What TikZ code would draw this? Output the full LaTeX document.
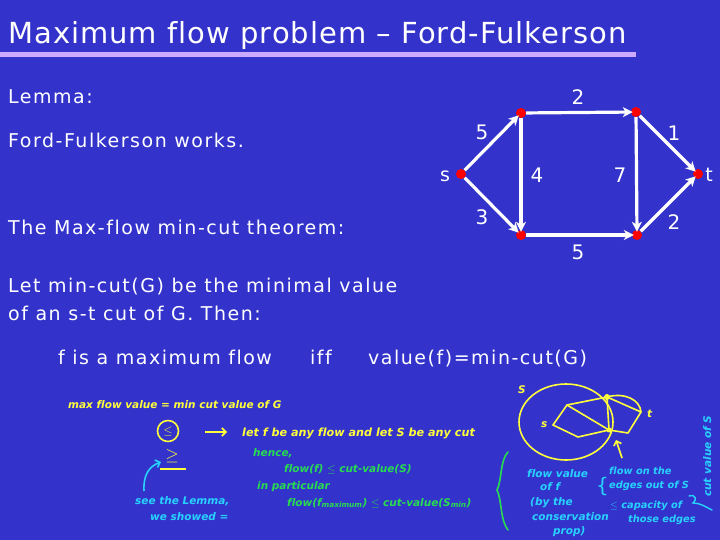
\documentclass[tikz,border=0pt]{standalone}
\usepackage{fontspec}
\setmainfont{DejaVu Sans}[LetterSpace=8, Ligatures=NoCommon]
\newfontfamily\titlefont{DejaVu Sans}[LetterSpace=3.5, Ligatures=NoCommon]
\newfontfamily\handfont{DejaVu Sans}[Ligatures=NoCommon]
\usetikzlibrary{arrows.meta, calc, positioning, decorations.pathreplacing}
\definecolor{slideblue}{RGB}{51,51,204}
\definecolor{barlilac}{RGB}{204,170,255}
\definecolor{handyellow}{RGB}{255,255,60}
\definecolor{handgreen}{RGB}{40,220,80}
\definecolor{handcyan}{RGB}{40,210,255}
\tikzset{
	vtx/.style={circle, fill=red, inner sep=0pt, minimum size=10pt},
	flowedge/.style={white, line width=3.2pt, -{Stealth[length=10pt, width=10pt, inset=3pt]}, shorten >=-2pt},
	capnum/.style={white, font=\fontsize{20}{24}\selectfont, inner sep=0pt},
	slidetext/.style={white, anchor=base west, font=\fontsize{19}{24}\selectfont, inner sep=0pt},
	hand/.style={font=\handfont\bfseries\itshape\fontsize{10.5}{12}\selectfont, inner sep=0pt, anchor=base west},
	sketch/.style={handyellow, line width=1.6pt, line cap=round, line join=round},
}
\begin{document}
\begin{tikzpicture}[x=1pt, y=-1pt]
	\fill[slideblue] (0,0) rectangle (720,540);
	\useasboundingbox (0,0) rectangle (720,540);
	% title
	\node[white, anchor=base west, font=\titlefont\fontsize{29}{34}\selectfont, inner sep=0pt] (title) at (8,44) {Maximum flow problem – Ford-Fulkerson};
	\fill[barlilac] (0,52) rectangle (636,57);
	% slide text
	\node[slidetext] (lemma) at (8,104) {Lemma:};
	\node[slidetext] (works) at (8,148) {Ford-Fulkerson works.};
	\node[slidetext] (thm) at (8,234) {The Max-flow min-cut theorem:};
	\node[slidetext] (let1) at (8,292) {Let min-cut(G) be the minimal value};
	\node[slidetext] (let2) at (8,320) {of an s-t cut of G. Then:};
	\node[slidetext] (ismax) at (58,364) {f is a maximum flow};
	\node[slidetext] (iff) at (310,364) {iff};
	\node[slidetext] (eqn) at (368,364) {value(f)=min-cut(G)};
	% network
	\node[vtx] (s) at (461,174) {};
	\node[vtx] (a) at (521,113) {};
	\node[vtx] (b) at (636,112) {};
	\node[vtx] (c) at (521,235) {};
	\node[vtx] (d) at (637,235) {};
	\node[vtx] (t) at (698,174) {};
	\node[white, font=\fontsize{19}{24}\selectfont, inner sep=0pt] (slabel) at (445,176) {s};
	\node[white, font=\fontsize{19}{24}\selectfont, inner sep=0pt] (tlabel) at (709,175) {t};
	\draw[flowedge] (s) -- (a);
	\draw[flowedge] (s) -- (c);
	\draw[flowedge] (a) -- (b);
	\draw[flowedge] (a) -- (c);
	\draw[flowedge] (b) -- (d);
	\draw[flowedge] (b) -- (t);
	\draw[flowedge] (c) -- (d);
	\draw[flowedge] (d) -- (t);
	\node[capnum] (csa) at (482,132) {5};
	\node[capnum] (csc) at (482,217) {3};
	\node[capnum] (cab) at (578,97) {2};
	\node[capnum] (cac) at (537,175) {4};
	\node[capnum] (cbd) at (620,175) {7};
	\node[capnum] (cbt) at (674,133) {1};
	\node[capnum] (ccd) at (578,252) {5};
	\node[capnum] (cdt) at (674,222) {2};
	% yellow notes
	\node[hand, handyellow] (maxmin) at (68,408) {max flow value = min cut value of G};
	\node[handyellow, font=\fontsize{13}{14}\selectfont, inner sep=0pt] (le) at (168,431) {$\leq$};
	\draw[handyellow, line width=1.6pt] (le) circle (10.5pt);
	\coordinate (arrs) at (205,432);
	\coordinate (arre) at (227,432);
	\draw[handyellow, line width=1.6pt, -{Straight Barb[length=4pt]}] (arrs) -- (arre);
	\node[hand, handyellow, font=\handfont\bfseries\itshape\fontsize{11.2}{12}\selectfont] (anyflow) at (242,436) {let f be any flow and let S be any cut};
	\node[handyellow, font=\fontsize{16}{16}\selectfont, inner sep=0pt] (ge) at (172,456) {$\geq$};
	\coordinate (ulA) at (160,469);
	\coordinate (ulB) at (186,469);
	\draw[handyellow, line width=1.8pt] (ulA) -- (ulB);
	% cyan notes, left
	\node[hand, handcyan] (seelem) at (135,504) {see the Lemma,};
	\node[hand, handcyan] (showed) at (150,520) {we showed =};
	\coordinate (cyA) at (144,491);
	\coordinate (cyB) at (161,462);
	\draw[handcyan, line width=1.6pt, -{Straight Barb[length=4pt]}] (cyA) .. controls (143,474) and (150,466) .. (cyB);
	% green notes
	\node[hand, handgreen] (hence) at (253,456) {hence,};
	\node[hand, handgreen] (ineq1) at (284,472) {flow(f) $\leq$ cut-value(S)};
	\node[hand, handgreen] (inpart) at (257,489) {in particular};
	\node[hand, handgreen] (ineq2) at (287,506) {flow(f\textsubscript{maximum}) $\leq$ cut-value(S\textsubscript{min})};
	\draw[handgreen, line width=1.6pt, line cap=round] (508,452) .. controls (500,460) and (502,480) .. (497,490) .. controls (502,500) and (500,520) .. (508,530);
	% yellow sketch
	\draw[sketch] (566,422) ellipse (47pt and 38pt);
	\node[hand, handyellow] (bigS) at (518,393) {S};
	\coordinate (ks) at (553,425);
	\coordinate (ka) at (567,405);
	\coordinate (kb) at (607,397);
	\coordinate (kc) at (578,437);
	\coordinate (kd) at (609,430);
	\coordinate (ke) at (628,433);
	\coordinate (kt) at (641,412);
	\node[hand, handyellow] (smalls) at (541,427) {s};
	\node[hand, handyellow] (smallt) at (647,417) {t};
	\draw[sketch] (ks) -- (ka) -- (kb);
	\draw[sketch] (ka) -- (kd);
	\draw[sketch] (ks) -- (kc) -- (kd);
	\draw[sketch] (kb) -- (kd);
	\draw[sketch] (kb) -- (kt) -- (ke) -- (kd);
	\draw[sketch] (kb) .. controls (625,392) and (640,400) .. (kt);
	\fill[handyellow] (kb) circle (3pt);
	\fill[handyellow] (kd) circle (2.5pt);
	\coordinate (ptA) at (622,458);
	\coordinate (ptB) at (616,440);
	\draw[handyellow, line width=1.6pt, -{Straight Barb[length=4pt]}] (ptA) -- (ptB);
	% cyan notes, right
	\node[hand, handcyan] (fv1) at (527,477) {flow value};
	\node[hand, handcyan] (fv2) at (540,490) {of f};
	\node[hand, handcyan] (fv3) at (530,505) {(by the};
	\node[hand, handcyan] (fv4) at (532,520) {conservation};
	\node[hand, handcyan] (fv5) at (553,534) {prop)};
	\node[handcyan, font=\fontsize{20}{24}\selectfont, inner sep=0pt, anchor=base west] (brl) at (596,492) {\{};
	\node[hand, handcyan, font=\handfont\bfseries\itshape\fontsize{9.8}{12}\selectfont] (oe1) at (609,474) {flow on the};
	\node[hand, handcyan, font=\handfont\bfseries\itshape\fontsize{9.8}{12}\selectfont] (oe2) at (609,488) {edges out of S};
	\node[hand, handcyan, font=\handfont\bfseries\itshape\fontsize{9.8}{12}\selectfont] (ce1) at (610,508) {$\leq$ capacity of};
	\node[hand, handcyan, font=\handfont\bfseries\itshape\fontsize{9.8}{12}\selectfont] (ce2) at (628,522) {those edges};
	\draw[handcyan, line width=1.4pt, line cap=round] (689,496) .. controls (696,494) and (697,500) .. (693,503) .. controls (700,503) and (704,506) .. (712,510);
	\node[hand, handcyan, rotate=90, anchor=base west] (cutval) at (711,497) {cut value of S};
\end{tikzpicture}
\end{document}
